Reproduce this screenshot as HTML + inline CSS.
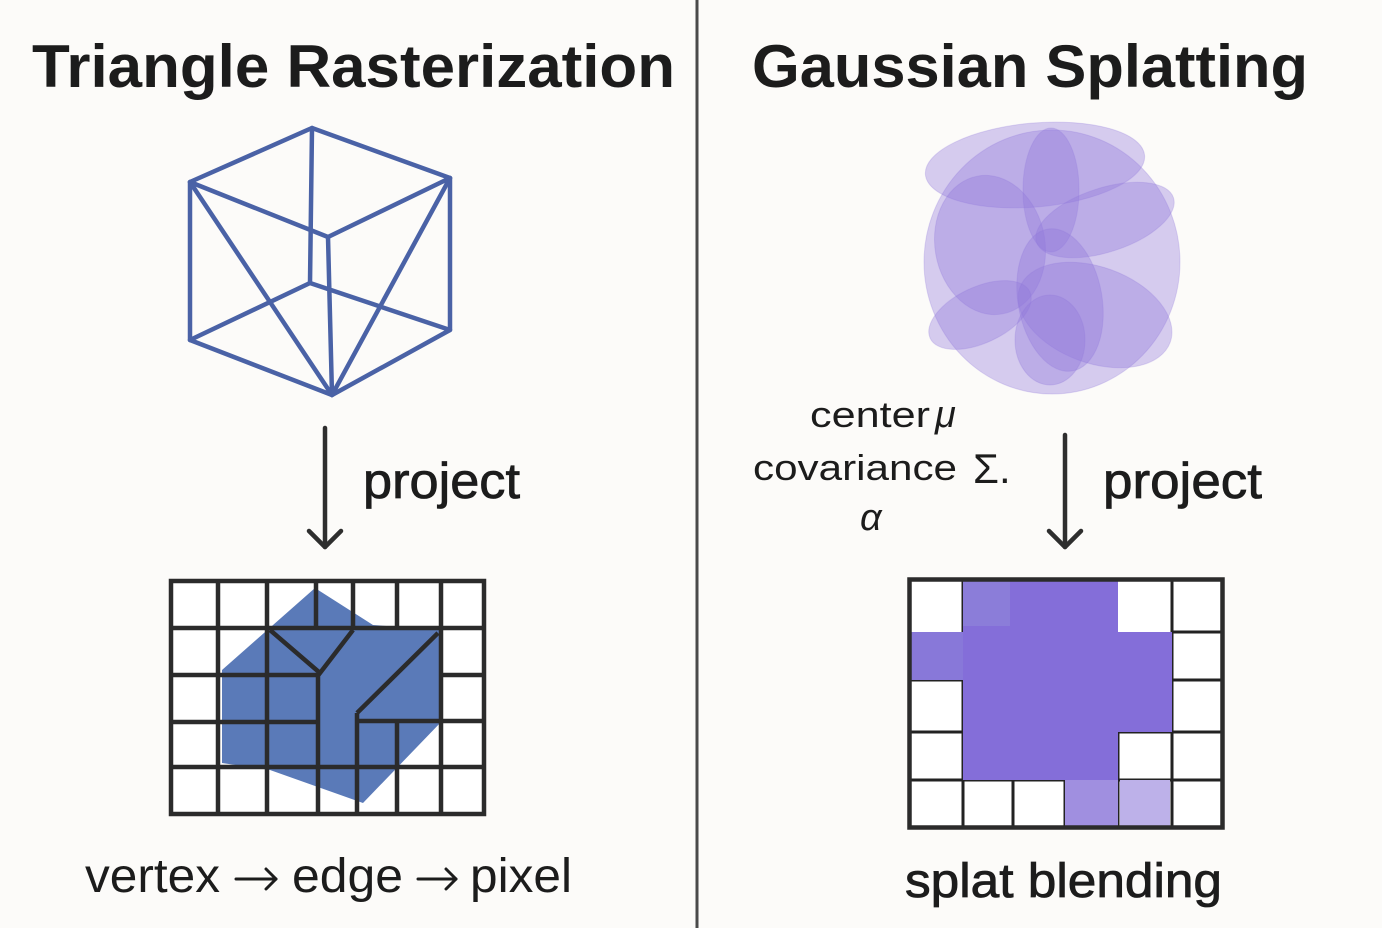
<!DOCTYPE html>
<html><head><meta charset="utf-8"><style>
html,body{margin:0;padding:0;background:#fcfbf9;}
svg{display:block;}
text{font-family:"Liberation Sans",sans-serif;fill:#1c1c1c;}
</style></head><body>
<svg width="1382" height="928" viewBox="0 0 1382 928" xmlns="http://www.w3.org/2000/svg">
<rect width="1382" height="928" fill="#fcfbf9"/>
<line x1="697" y1="0" x2="697" y2="928" stroke="#4a4a4a" stroke-width="3"/>

<text x="32" y="87" font-size="60" font-weight="bold" textLength="643" lengthAdjust="spacingAndGlyphs">Triangle Rasterization</text>
<text x="752" y="87" font-size="60" font-weight="bold" textLength="556" lengthAdjust="spacingAndGlyphs">Gaussian Splatting</text>

<!-- cube -->
<g stroke="#4a62a6" stroke-width="4.5" fill="none" stroke-linejoin="round" stroke-linecap="round">
<polygon points="190,182 312,128 450,178 328,237"/>
<polyline points="190,182 190,340 332,395 450,330 450,178"/>
<line x1="312" y1="128" x2="310" y2="283"/>
<line x1="328" y1="237" x2="332" y2="395"/>
<line x1="190" y1="182" x2="332" y2="395"/>
<line x1="450" y1="178" x2="332" y2="395"/>
<line x1="310" y1="283" x2="190" y2="340"/>
<line x1="310" y1="283" x2="450" y2="330"/>
</g>

<!-- arrows -->
<g stroke="#2e2e2e" stroke-width="4.5" fill="none" stroke-linecap="round" stroke-linejoin="round">
<line x1="325" y1="428" x2="325" y2="547"/>
<polyline points="309,531 325,547 341,531"/>
<line x1="1065" y1="435" x2="1065" y2="547"/>
<polyline points="1049,531 1065,547 1081,531"/>
</g>
<text x="363" y="498" font-size="50" textLength="157" lengthAdjust="spacingAndGlyphs" stroke="#1c1c1c" stroke-width="0.8">project</text>
<text x="1103" y="498" font-size="50" textLength="159" lengthAdjust="spacingAndGlyphs" stroke="#1c1c1c" stroke-width="0.8">project</text>

<!-- left grid -->
<rect x="172" y="582" width="311" height="231" fill="#fff"/>
<polygon points="222,670 315,588 373,625 443,630 443,720 363,803 270,770 222,763" fill="#5a7ab8"/>
<g stroke="#2b2b2b" stroke-width="4.5" fill="none">
<rect x="171" y="581" width="313" height="233"/>
<line x1="171" y1="628" x2="484" y2="628"/>
<line x1="171" y1="675" x2="318" y2="675"/>
<line x1="440" y1="675" x2="484" y2="675"/>
<line x1="171" y1="722" x2="318" y2="722"/>
<line x1="357" y1="721" x2="484" y2="721"/>
<line x1="171" y1="767" x2="484" y2="767"/>
<line x1="218" y1="581" x2="218" y2="814"/>
<line x1="267" y1="581" x2="267" y2="814"/>
<line x1="316" y1="581" x2="316" y2="628"/>
<line x1="353" y1="581" x2="353" y2="628"/>
<line x1="397" y1="581" x2="397" y2="628"/>
<line x1="441" y1="581" x2="441" y2="814"/>
<line x1="397" y1="721" x2="397" y2="814"/>
<line x1="318" y1="673" x2="318" y2="814"/>
<line x1="357" y1="713" x2="357" y2="814"/>
<polyline points="270,630 320,673 353,630"/>
<polyline points="438,633 357,713"/>
</g>

<!-- blob -->
<g fill="#8f78dc" fill-opacity="0.36" stroke="#8f78dc" stroke-opacity="0.25" stroke-width="1">
<ellipse cx="1052" cy="262" rx="128" ry="132"/>
<ellipse cx="1035" cy="165" rx="110" ry="42" transform="rotate(-5 1035 165)"/>
<ellipse cx="990" cy="245" rx="55" ry="70" transform="rotate(-10 990 245)"/>
<ellipse cx="1051" cy="190" rx="28" ry="62"/>
<ellipse cx="1105" cy="220" rx="72" ry="32" transform="rotate(-18 1105 220)"/>
<ellipse cx="1060" cy="300" rx="42" ry="72" transform="rotate(-10 1060 300)"/>
<ellipse cx="1095" cy="315" rx="80" ry="48" transform="rotate(20 1095 315)"/>
<ellipse cx="980" cy="315" rx="55" ry="28" transform="rotate(-25 980 315)"/>
<ellipse cx="1050" cy="340" rx="35" ry="45"/>
</g>

<text x="810" y="427" font-size="36" textLength="120" lengthAdjust="spacingAndGlyphs">center</text>
<text x="935" y="427" font-size="38" font-style="italic" font-family="Liberation Serif">μ</text>
<text x="753" y="480" font-size="36" textLength="204" lengthAdjust="spacingAndGlyphs">covariance</text>
<text x="973" y="483" font-size="42" font-family="Liberation Serif">Σ.</text>
<text x="860" y="530" font-size="38" font-style="italic" font-family="Liberation Serif">α</text>

<!-- right grid -->
<rect x="910" y="580" width="312" height="247" fill="#fff"/>
<g stroke="#222" stroke-width="3" fill="none">
<line x1="910" y1="680" x2="963" y2="680"/>
<line x1="910" y1="732" x2="963" y2="732"/>
<line x1="910" y1="780" x2="1222" y2="780"/>
<line x1="1172" y1="632" x2="1222" y2="632"/>
<line x1="1172" y1="680" x2="1222" y2="680"/>
<line x1="1118" y1="732" x2="1222" y2="732"/>
<line x1="963" y1="580" x2="963" y2="827"/>
<line x1="1013" y1="780" x2="1013" y2="827"/>
<line x1="1065" y1="780" x2="1065" y2="827"/>
<line x1="1118" y1="732" x2="1118" y2="827"/>
<line x1="1172" y1="580" x2="1172" y2="827"/>
</g>
<g stroke="none">
<rect x="963" y="581" width="155" height="199" fill="#846ed9"/>
<rect x="963" y="581" width="47" height="45" fill="#8b7dd9"/>
<rect x="910" y="632" width="53" height="48" fill="#8878d9"/>
<rect x="963" y="632" width="209" height="100" fill="#846ed9"/>
<rect x="1065" y="780" width="53" height="46" fill="#a08fe0"/>
<rect x="1120" y="780" width="50" height="46" fill="#bdb1e9"/>
</g>
<rect x="909.5" y="579.5" width="313" height="248" fill="none" stroke="#2b2b2b" stroke-width="4.5"/>

<text x="85" y="892" font-size="48" textLength="135" lengthAdjust="spacingAndGlyphs">vertex</text>
<text x="292" y="892" font-size="48" textLength="111" lengthAdjust="spacingAndGlyphs">edge</text>
<text x="470" y="892" font-size="48" textLength="102" lengthAdjust="spacingAndGlyphs">pixel</text>
<g stroke="#1c1c1c" stroke-width="3" fill="none" stroke-linecap="round" stroke-linejoin="round">
<line x1="236" y1="879" x2="276" y2="879"/><polyline points="266,869 276,879 266,889"/>
<line x1="418" y1="879" x2="456" y2="879"/><polyline points="446,869 456,879 446,889"/>
</g>
<text x="905" y="897" font-size="48" textLength="317" lengthAdjust="spacingAndGlyphs" stroke="#1c1c1c" stroke-width="0.8">splat blending</text>
</svg>
</body></html>
